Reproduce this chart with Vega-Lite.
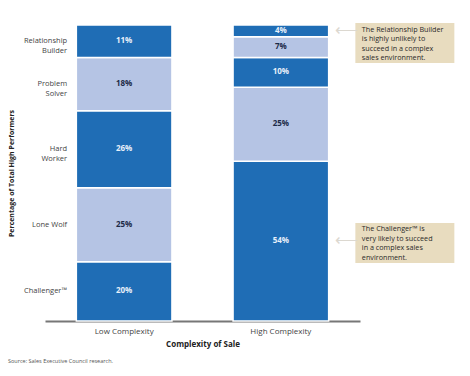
{
  "$schema": "https://vega.github.io/schema/vega-lite/v6.json",
  "width": 315,
  "height": 296,
  "autosize": "none",
  "padding": {"left": 45, "top": 25, "right": 110, "bottom": 55},
  "background": "white",
  "config": {
    "font": "Open Sans",
    "view": {"stroke": null}
  },
  "title": {
    "text": "Source: Sales Executive Council research.",
    "orient": "bottom",
    "anchor": "start",
    "frame": "group",
    "dx": -37,
    "offset": 11,
    "fontSize": 5.5,
    "fontWeight": "normal",
    "color": "#555"
  },
  "data": {
    "values": [
      {"complexity": "Low Complexity", "type": "Challenger", "label": "Challenger™", "rank": 1, "pct": 20},
      {"complexity": "Low Complexity", "type": "Lone Wolf", "label": "Lone Wolf", "rank": 2, "pct": 25},
      {"complexity": "Low Complexity", "type": "Hard Worker", "label": "Hard\nWorker", "rank": 3, "pct": 26},
      {"complexity": "Low Complexity", "type": "Problem Solver", "label": "Problem\nSolver", "rank": 4, "pct": 18},
      {"complexity": "Low Complexity", "type": "Relationship Builder", "label": "Relationship\nBuilder", "rank": 5, "pct": 11},
      {"complexity": "High Complexity", "type": "Challenger", "label": "Challenger™", "rank": 1, "pct": 54, "note": "The Challenger™ is\nvery likely to succeed\nin a complex sales\nenvironment."},
      {"complexity": "High Complexity", "type": "Lone Wolf", "label": "Lone Wolf", "rank": 2, "pct": 25},
      {"complexity": "High Complexity", "type": "Hard Worker", "label": "Hard\nWorker", "rank": 3, "pct": 10},
      {"complexity": "High Complexity", "type": "Problem Solver", "label": "Problem\nSolver", "rank": 4, "pct": 7},
      {"complexity": "High Complexity", "type": "Relationship Builder", "label": "Relationship\nBuilder", "rank": 5, "pct": 4, "note": "The Relationship Builder\nis highly unlikely to\nsucceed in a complex\nsales environment."}
    ]
  },
  "transform": [
    {"stack": "pct", "groupby": ["complexity"], "sort": [{"field": "rank", "order": "ascending"}], "as": ["y0", "y1"]},
    {"calculate": "(datum.y0 + datum.y1) / 2", "as": "mid"},
    {"calculate": "datum.pct + '%'", "as": "pctLabel"}
  ],
  "encoding": {
    "x": {
      "field": "complexity",
      "type": "nominal",
      "sort": ["Low Complexity", "High Complexity"],
      "scale": {"paddingInner": 0.39, "paddingOuter": 0.2},
      "axis": {
        "title": "Complexity of Sale",
        "labelAngle": 0,
        "labelFontSize": 8,
        "labelColor": "#444",
        "labelPadding": 6,
        "ticks": false,
        "domainColor": "#777",
        "domainWidth": 2,
        "titleFontSize": 8,
        "titleFontWeight": "bold",
        "titleColor": "#222",
        "titlePadding": 5
      }
    }
  },
  "layer": [
    {
      "mark": {"type": "bar", "stroke": "white", "strokeWidth": 1.5},
      "encoding": {
        "y": {
          "field": "y0",
          "type": "quantitative",
          "scale": {"domain": [0, 100], "nice": false},
          "axis": {
            "title": "Percentage of Total High Performers",
            "labels": false,
            "ticks": false,
            "domain": false,
            "grid": false,
            "titleFontSize": 7,
            "titleFontWeight": "bold",
            "titleColor": "#222",
            "titlePadding": 31
          }
        },
        "y2": {"field": "y1"},
        "color": {
          "field": "type",
          "type": "nominal",
          "scale": {
            "domain": ["Challenger", "Lone Wolf", "Hard Worker", "Problem Solver", "Relationship Builder"],
            "range": ["#1f6db5", "#b5c4e4", "#1f6db5", "#b5c4e4", "#1f6db5"]
          },
          "legend": null
        }
      }
    },
    {
      "mark": {"type": "text", "fontSize": 8, "fontWeight": "bold"},
      "encoding": {
        "y": {"field": "mid", "type": "quantitative"},
        "text": {"field": "pctLabel"},
        "color": {
          "condition": {"test": "datum.type === 'Lone Wolf' || datum.type === 'Problem Solver'", "value": "#1c2a48"},
          "value": "#e8f0fa"
        }
      }
    },
    {
      "transform": [{"filter": "datum.complexity === 'Low Complexity'"}],
      "mark": {"type": "text", "fontSize": 7.5, "align": "right", "dx": -57, "lineBreak": "\n", "color": "#444"},
      "encoding": {
        "y": {"field": "mid", "type": "quantitative"},
        "text": {"field": "label"}
      }
    },
    {
      "transform": [{"filter": "datum.type === 'Relationship Builder' && datum.complexity === 'High Complexity'"}],
      "mark": {"type": "rect", "width": 99, "height": 40, "xOffset": 124, "yOffset": 12, "color": "#e8dcbf"},
      "encoding": {
        "y": {"field": "mid", "type": "quantitative"}
      }
    },
    {
      "transform": [{"filter": "datum.type === 'Challenger' && datum.complexity === 'High Complexity'"}],
      "mark": {"type": "rect", "width": 99, "height": 40, "xOffset": 124, "yOffset": 2, "color": "#e8dcbf"},
      "encoding": {
        "y": {"field": "mid", "type": "quantitative"}
      }
    },
    {
      "transform": [{"filter": "datum.type === 'Relationship Builder' && datum.complexity === 'High Complexity'"}],
      "mark": {"type": "text", "fontSize": 7.2, "align": "left", "baseline": "top", "dx": 81, "dy": -5, "lineBreak": "\n", "lineHeight": 9.5, "color": "#2a2a2a"},
      "encoding": {
        "y": {"field": "mid", "type": "quantitative"},
        "text": {"field": "note"}
      }
    },
    {
      "transform": [{"filter": "datum.type === 'Challenger' && datum.complexity === 'High Complexity'"}],
      "mark": {"type": "text", "fontSize": 7.2, "align": "left", "baseline": "top", "dx": 81, "dy": -16, "lineBreak": "\n", "lineHeight": 9.5, "color": "#2a2a2a"},
      "encoding": {
        "y": {"field": "mid", "type": "quantitative"},
        "text": {"field": "note"}
      }
    },
    {
      "transform": [{"filter": "datum.note"}],
      "mark": {"type": "text", "fontSize": 16, "align": "center", "dx": 66, "dy": -1, "color": "#dcd8d0"},
      "encoding": {
        "y": {"field": "mid", "type": "quantitative"},
        "text": {"value": "⟵"}
      }
    }
  ]
}
